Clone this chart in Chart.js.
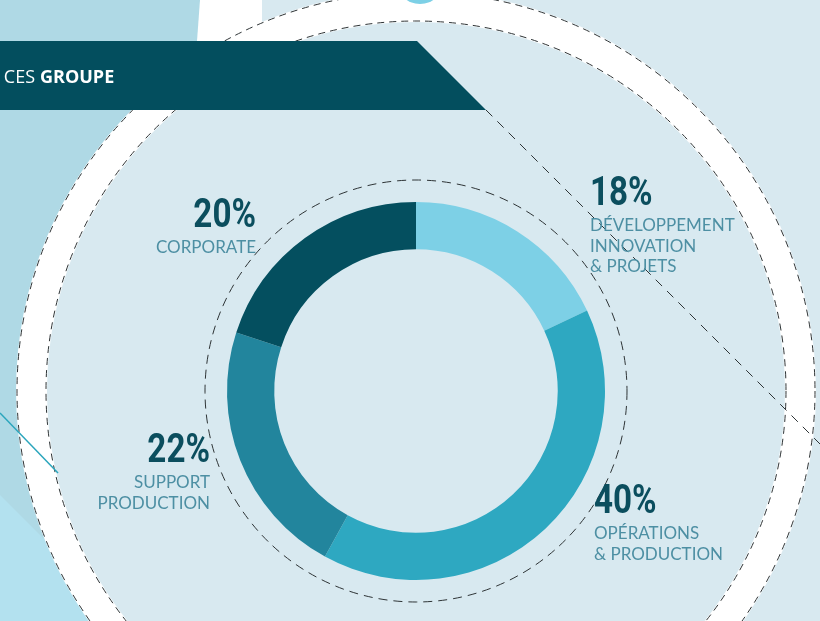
<!DOCTYPE html>
<html>
<head>
<meta charset="utf-8">
<script src="https://cdn.jsdelivr.net/npm/chart.js@4.4.1/dist/chart.umd.min.js"></script>
<style>
  html, body { margin: 0; padding: 0; background: #d8e9f0; overflow: hidden; }
  #chart { display: block; }
</style>
</head>
<body>
<canvas id="chart" width="820" height="621"></canvas>
<script>
// chart data
const categories = [
  ['DÉVELOPPEMENT', 'INNOVATION', '& PROJETS'],
  ['OPÉRATIONS', '& PRODUCTION'],
  ['SUPPORT', 'PRODUCTION'],
  ['CORPORATE']
];
const shares = [18, 40, 22, 20];
const sliceColors = ['#7dd0e6', '#2ea8c1', '#22859d', '#044f5f'];
const bannerWords = ['CES', 'GROUPE'];

// label blocks, offset from the doughnut centre (percent baseline)
const labelSpots = [
  {dx: 174, dy: -186, align: 'left'},
  {dx: 178, dy: 122, align: 'left'},
  {dx: -206, dy: 71, align: 'right'},
  {dx: -160, dy: -164, align: 'right'}
];

const BG = '#d8e9f0';
const DASH = '#2e3436';

function dashedCircle(ctx, x, y, r, dash) {
  ctx.save();
  ctx.setLineDash(dash);
  ctx.strokeStyle = DASH;
  ctx.lineWidth = 1;
  ctx.beginPath();
  ctx.arc(x, y, r, 0, Math.PI * 2);
  ctx.stroke();
  ctx.restore();
}

const backdrop = {
  id: 'backdrop',
  beforeDraw(chart) {
    const ctx = chart.ctx;
    const arc = chart.getDatasetMeta(0).data[0];
    const cx = arc.x, cy = arc.y, R = arc.outerRadius;
    const ringIn = R + 180, ringOut = R + 211;

    ctx.save();
    ctx.fillStyle = BG;
    ctx.fillRect(0, 0, chart.width, chart.height);

    // left panel
    ctx.fillStyle = '#afd9e5';
    ctx.beginPath();
    ctx.moveTo(0, 0); ctx.lineTo(200, 0); ctx.lineTo(196, 621); ctx.lineTo(0, 621);
    ctx.closePath(); ctx.fill();
    ctx.fillStyle = '#b3e1ef';
    ctx.beginPath();
    ctx.moveTo(0, 495); ctx.lineTo(220, 715); ctx.lineTo(0, 715);
    ctx.closePath(); ctx.fill();

    // white strip at the top
    ctx.fillStyle = '#ffffff';
    ctx.beginPath();
    ctx.moveTo(200, 0); ctx.lineTo(262, 0); ctx.lineTo(262, 41); ctx.lineTo(197, 41);
    ctx.closePath(); ctx.fill();

    // big white ring
    ctx.beginPath();
    ctx.arc(cx, cy, ringOut, 0, Math.PI * 2);
    ctx.fill();
    ctx.fillStyle = BG;
    ctx.beginPath();
    ctx.arc(cx, cy, ringIn, 0, Math.PI * 2);
    ctx.fill();

    // small cyan blob peeking at the top
    ctx.fillStyle = '#7dd0e6';
    ctx.beginPath();
    ctx.arc(cx + 4, -20, 24, 0, Math.PI * 2);
    ctx.fill();

    dashedCircle(ctx, cx, cy, ringOut - 1, [7, 5]);
    dashedCircle(ctx, cx, cy, ringIn + 1, [7, 5]);
    dashedCircle(ctx, cx, cy, R + 22, [9, 6]);

    // thin teal line on the left
    ctx.strokeStyle = '#2aa5bc';
    ctx.lineWidth = 1.5;
    ctx.beginPath();
    ctx.moveTo(0, 413); ctx.lineTo(58, 473);
    ctx.stroke();

    // banner
    ctx.fillStyle = '#034e5e';
    ctx.beginPath();
    ctx.moveTo(0, 41); ctx.lineTo(417, 41); ctx.lineTo(486, 110); ctx.lineTo(0, 110);
    ctx.closePath(); ctx.fill();

    // diagonal dashed line from the banner corner
    ctx.save();
    ctx.setLineDash([9, 7]);
    ctx.strokeStyle = DASH;
    ctx.lineWidth = 1;
    ctx.beginPath();
    ctx.moveTo(486, 110); ctx.lineTo(840, 464);
    ctx.stroke();
    ctx.restore();

    ctx.fillStyle = '#ffffff';
    ctx.textBaseline = 'alphabetic';
    ctx.font = '18px "Open Sans"';
    ctx.textAlign = 'right';
    ctx.fillText(bannerWords[0], 35, 83);
    ctx.font = 'bold 18px "Open Sans"';
    ctx.textAlign = 'left';
    ctx.fillText(bannerWords[1], 40, 83);
    ctx.restore();
  },
  afterDraw(chart) {
    const ctx = chart.ctx;
    const arc = chart.getDatasetMeta(0).data[0];
    const cx = arc.x, cy = arc.y;
    ctx.save();
    ctx.textBaseline = 'alphabetic';
    shares.forEach((v, i) => {
      const spot = labelSpots[i];
      const x = cx + spot.dx, y = cy + spot.dy;
      ctx.save();
      ctx.translate(x, y);
      ctx.scale(0.81, 1);
      ctx.textAlign = spot.align;
      ctx.fillStyle = '#0b4e5e';
      ctx.font = 'bold 41px Roboto';
      ctx.fillText(v + '%', 0, 0);
      ctx.restore();

      ctx.textAlign = spot.align;
      ctx.fillStyle = '#4d8fa3';
      ctx.font = '17px Lato';
      categories[i].forEach((line, j) => {
        ctx.fillText(line, x, y + 26 + j * 20.5);
      });
    });
    ctx.restore();
  }
};

new Chart(document.getElementById('chart'), {
  type: 'doughnut',
  data: {
    labels: categories.map(c => c.join(' ')),
    datasets: [{
      data: shares,
      backgroundColor: sliceColors,
      borderWidth: 0,
      hoverOffset: 0
    }]
  },
  options: {
    responsive: false,
    animation: false,
    events: [],
    cutout: '75%',
    layout: { padding: { left: 227, right: 215, top: 202, bottom: 41 } },
    plugins: {
      legend: { display: false },
      tooltip: { enabled: false }
    }
  },
  plugins: [backdrop]
});
</script>
</body>
</html>
